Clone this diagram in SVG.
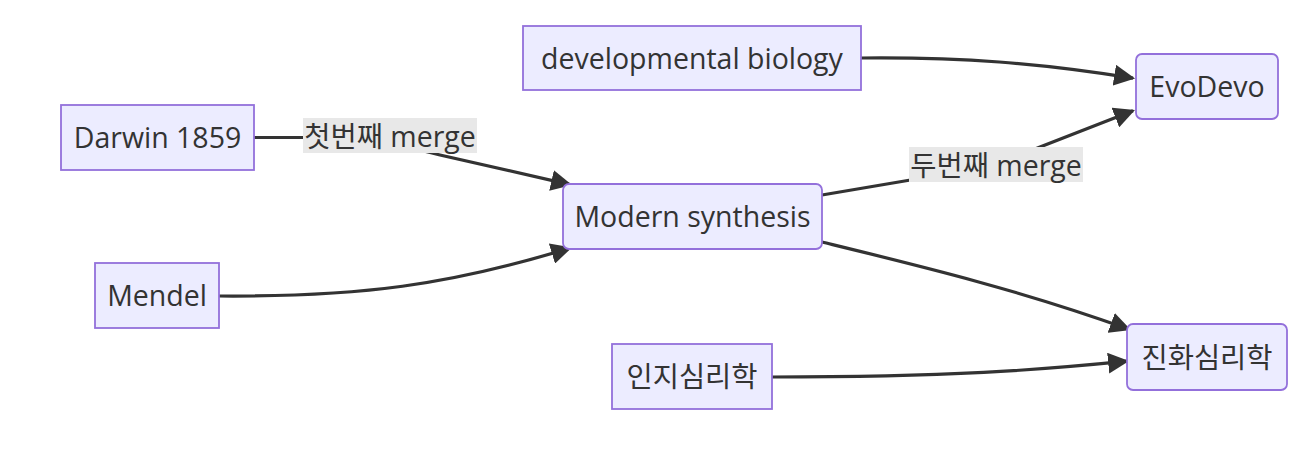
<svg xmlns="http://www.w3.org/2000/svg" width="1310" height="454" viewBox="0 0 1310 454">
<defs>
<style>
.node rect{fill:#ECECFF;stroke:#9370DB;stroke-width:1.8}
.node text,.elabel text{font-family:"Open Sans","Noto Sans CJK KR",sans-serif;font-size:28.5px;fill:#333333;text-anchor:middle}
.edge{fill:none;stroke:#333333;stroke-width:3.2;marker-end:url(#arrow)}
.elabel rect{fill:#e8e8e8}
</style>
<marker id="arrow" viewBox="0 0 10 10" refX="9" refY="5" markerUnits="userSpaceOnUse" markerWidth="21" markerHeight="21" orient="auto">
<path d="M0,0 L10,5 L0,10 z" fill="#333333"/>
</marker>
</defs>
<rect width="1310" height="454" fill="#ffffff"/>
<g id="edges">
<path class="edge" d="M254,137.5 L330,137.5 C370,137.5 400,145 440,155 L570,184.6"/>
<path class="edge" d="M219,296 C360,297 450,285 570,248"/>
<path class="edge" d="M822,195 L940,175 C980,168 1010,160 1040,147 L1133,110.7"/>
<path class="edge" d="M861,58 C960,57 1040,63 1133,78.2"/>
<path class="edge" d="M822,242 C920,266 1020,290 1129,329.3"/>
<path class="edge" d="M772,377 C950,377 1040,370 1127,361.2"/>
<g class="elabel" id="label1"><rect x="303" y="118" width="174" height="35"/><text x="390" y="146.5">첫번째 merge</text></g>
<g class="elabel" id="label2"><rect x="909" y="147" width="174" height="35"/><text x="996" y="175.5">두번째 merge</text></g>
</g>
<g class="node" id="darwin"><rect x="61" y="105" width="193" height="65"/><text x="157.5" y="148">Darwin 1859</text></g>
<g class="node" id="mendel"><rect x="95" y="263" width="124" height="65"/><text x="157" y="306">Mendel</text></g>
<g class="node" id="devbio"><rect x="523" y="26" width="338" height="64"/><text x="692" y="68.5">developmental biology</text></g>
<g class="node" id="modern"><rect x="563" y="184" width="259" height="65" rx="6"/><text x="692.5" y="227">Modern synthesis</text></g>
<g class="node" id="evodevo"><rect x="1136" y="54" width="142" height="65" rx="6"/><text x="1207" y="97">EvoDevo</text></g>
<g class="node" id="cogpsy"><rect x="612" y="344" width="160" height="65"/><text x="692" y="387">인지심리학</text></g>
<g class="node" id="evopsy"><rect x="1127" y="324" width="160" height="66" rx="6"/><text x="1207" y="367.5">진화심리학</text></g>
</svg>
